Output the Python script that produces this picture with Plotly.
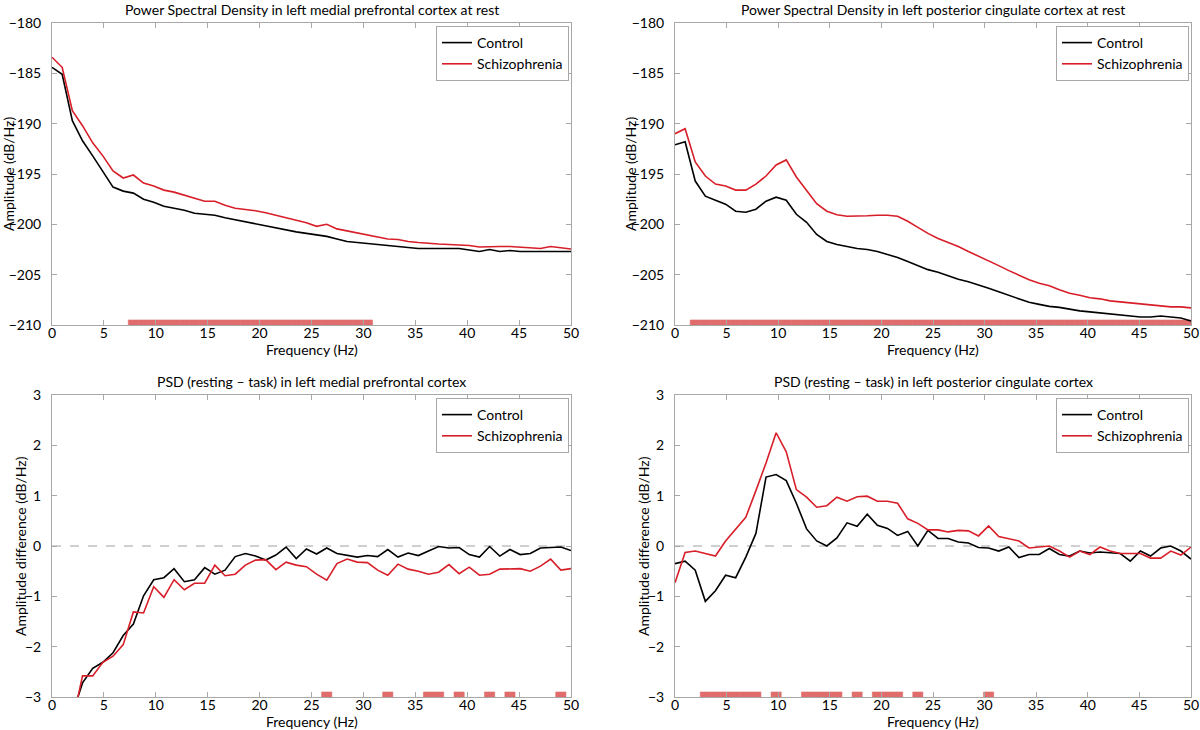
import plotly.graph_objects as go

# ---------------- data ----------------
freq = [0.0, 0.98, 1.96, 2.94, 3.92, 4.9, 5.88, 6.86, 7.84, 8.82, 9.8, 10.78, 11.76,
        12.75, 13.73, 14.71, 15.69, 16.67, 17.65, 18.63, 19.61, 20.59, 21.57, 22.55,
        23.53, 24.51, 25.49, 26.47, 27.45, 28.43, 29.41, 30.39, 31.37, 32.35, 33.33,
        34.31, 35.29, 36.27, 37.25, 38.24, 39.22, 40.2, 41.18, 42.16, 43.14, 44.12,
        45.1, 46.08, 47.06, 48.04, 49.02, 50.0]

mpfc_rest_control = [-184.4, -185.1, -189.7, -191.7, -193.2, -194.7, -196.3, -196.7, -196.9,
                     -197.5, -197.8, -198.2, -198.4, -198.6, -198.9, -199.0, -199.1, -199.35,
                     -199.55, -199.8, -200.0, -200.15, -200.35, -200.6, -200.75, -200.9,
                     -201.05, -201.2, -201.45, -201.7, -201.8, -201.9, -202.0, -202.1, -202.2,
                     -202.25, -202.4, -202.4, -202.4, -202.4, -202.4, -202.55, -202.7, -202.5,
                     -202.7, -202.6, -202.7, -202.7, -202.7, -202.7, -202.7, -202.7]
mpfc_rest_scz = [-183.4, -184.4, -188.7, -190.2, -191.9, -193.2, -194.7, -195.4, -195.1,
                 -195.9, -196.2, -196.6, -196.8, -197.1, -197.4, -197.7, -197.7, -198.1,
                 -198.4, -198.5, -198.65, -198.85, -199.1, -199.3, -199.55, -199.85, -200.2,
                 -200.0, -200.45, -200.65, -200.85, -201.0, -201.25, -201.45, -201.5, -201.7,
                 -201.8, -201.9, -201.95, -202.0, -202.05, -202.1, -202.25, -202.2, -202.2,
                 -202.2, -202.25, -202.35, -202.4, -202.2, -202.3, -202.45]

pcc_rest_control = [-192.1, -191.8, -195.7, -197.2, -197.6, -198.0, -198.7, -198.8, -198.5,
                    -197.7, -197.3, -197.6, -199.0, -199.8, -201.0, -201.7, -202.0, -202.2,
                    -202.4, -202.5, -202.7, -203.0, -203.3, -203.7, -204.1, -204.5, -204.75,
                    -205.1, -205.45, -205.7, -206.0, -206.35, -206.7, -207.05, -207.45,
                    -207.75, -207.95, -208.15, -208.25, -208.45, -208.6, -208.7, -208.8,
                    -208.9, -209.0, -209.1, -209.2, -209.2, -209.1, -209.2, -209.3, -209.6]
pcc_rest_scz = [-191.0, -190.5, -193.8, -195.2, -196.0, -196.2, -196.6, -196.6, -196.0,
                -195.2, -194.1, -193.6, -195.3, -196.6, -197.95, -198.7, -199.05, -199.2,
                -199.2, -199.15, -199.1, -199.1, -199.2, -199.7, -200.3, -200.9, -201.4,
                -201.8, -202.2, -202.7, -203.15, -203.65, -204.1, -204.6, -205.05, -205.5,
                -205.85, -206.1, -206.5, -206.85, -207.05, -207.3, -207.4, -207.6, -207.7,
                -207.8, -207.9, -208.0, -208.1, -208.2, -208.2, -208.3]

mpfc_diff_control = [None, None, -3.34, -2.72, -2.43, -2.31, -2.12, -1.78, -1.55, -0.99,
                     -0.67, -0.63, -0.45, -0.71, -0.67, -0.43, -0.56, -0.48, -0.21, -0.15,
                     -0.2, -0.28, -0.18, -0.02, -0.25, -0.06, -0.16, -0.04, -0.15, -0.19,
                     -0.22, -0.19, -0.21, -0.07, -0.22, -0.14, -0.19, -0.1, -0.01, -0.04,
                     -0.03, -0.17, -0.22, -0.01, -0.2, -0.07, -0.17, -0.15, -0.04, -0.03,
                     -0.02, -0.09]
mpfc_diff_scz = [None, None, -3.52, -2.58, -2.58, -2.31, -2.19, -1.96, -1.31, -1.33, -0.81,
                 -1.02, -0.67, -0.87, -0.74, -0.74, -0.38, -0.59, -0.56, -0.38, -0.28, -0.27,
                 -0.47, -0.32, -0.38, -0.41, -0.56, -0.68, -0.35, -0.26, -0.32, -0.33, -0.48,
                 -0.58, -0.36, -0.46, -0.5, -0.56, -0.52, -0.37, -0.55, -0.42, -0.58, -0.56,
                 -0.46, -0.46, -0.45, -0.5, -0.4, -0.26, -0.48, -0.45]

pcc_diff_control = [-0.35, -0.3, -0.48, -1.1, -0.89, -0.58, -0.63, -0.22, 0.25, 1.37, 1.42,
                    1.3, 0.85, 0.34, 0.1, 0.0, 0.16, 0.46, 0.39, 0.63, 0.41, 0.35, 0.21,
                    0.29, 0.0, 0.31, 0.15, 0.15, 0.08, 0.06, -0.03, -0.04, -0.1, -0.02,
                    -0.23, -0.17, -0.17, -0.05, -0.17, -0.2, -0.1, -0.14, -0.12, -0.14,
                    -0.15, -0.3, -0.1, -0.2, -0.04, 0.0, -0.1, -0.26]
pcc_diff_scz = [-0.73, -0.13, -0.1, -0.15, -0.2, 0.1, 0.33, 0.57, 1.1, 1.65, 2.25, 1.87,
                1.12, 0.97, 0.77, 0.8, 0.97, 0.89, 0.98, 0.99, 0.89, 0.89, 0.85, 0.54, 0.45,
                0.32, 0.32, 0.28, 0.31, 0.3, 0.2, 0.4, 0.19, 0.15, 0.1, -0.04, -0.02, 0.0,
                -0.1, -0.22, -0.1, -0.17, -0.02, -0.1, -0.15, -0.15, -0.15, -0.24, -0.24,
                -0.1, -0.18, -0.02]

# indices of frequency bins with significant group differences
sig_mpfc_rest = list(range(8, 32))
sig_pcc_rest = list(range(2, 52))
sig_mpfc_diff = [27, 33, 37, 38, 40, 43, 45, 50]
sig_pcc_diff = [3, 4, 5, 6, 7, 8, 10, 13, 14, 15, 16, 18, 20, 21, 22, 24, 31]

titles = ["Power Spectral Density in left medial prefrontal cortex at rest",
          "Power Spectral Density in left posterior cingulate cortex at rest",
          "PSD (resting \u2013 task) in left medial prefrontal cortex",
          "PSD (resting \u2013 task) in left posterior cingulate cortex"]
y_titles = ["Amplitude (dB/Hz)", "Amplitude (dB/Hz)",
            "Amplitude difference (dB/Hz)", "Amplitude difference (dB/Hz)"]
x_title = "Frequency (Hz)"
series_names = ["Control", "Schizophrenia"]

# ---------------- style ----------------
FONT = "Lato"
W, H = 1200, 730
BLACK = "#000000"
RED = "#d81e28"
SIGC = "#e06c6c"
AXC = "#a8a8a8"

# pixel boxes of each axes: (left, right, top, bottom)
boxes = [(52, 571, 23, 325), (675, 1191, 23, 325),
         (52, 571, 395, 697), (675, 1191, 395, 697)]
yranges = [(-210, -180), (-210, -180), (-3, 3), (-3, 3)]
ydtick = [5, 5, 1, 1]
sig_h = [0.5, 0.5, 0.1, 0.1]
xlabel_off = [24, 24, 24, 24]

panels = [
    (mpfc_rest_control, mpfc_rest_scz, sig_mpfc_rest),
    (pcc_rest_control, pcc_rest_scz, sig_pcc_rest),
    (mpfc_diff_control, mpfc_diff_scz, sig_mpfc_diff),
    (pcc_diff_control, pcc_diff_scz, sig_pcc_diff),
]

fig = go.Figure()
annotations = []
shapes = []

for k, (ctrl, scz, sig) in enumerate(panels):
    n = "" if k == 0 else str(k + 1)
    xa, ya = "x" + n, "y" + n
    leg = "legend" + n
    y0, y1 = yranges[k]
    fig.add_trace(go.Bar(
        x=[freq[i] for i in sig], y=[sig_h[k]] * len(sig), base=y0, width=0.98,
        marker=dict(color=SIGC, line=dict(width=0.6, color=SIGC)), showlegend=False,
        xaxis=xa, yaxis=ya, hoverinfo="skip"))
    fig.add_trace(go.Scatter(x=freq, y=ctrl, mode="lines", name=series_names[0],
                             line=dict(color=BLACK, width=1.6), xaxis=xa, yaxis=ya,
                             legend=leg))
    fig.add_trace(go.Scatter(x=freq, y=scz, mode="lines", name=series_names[1],
                             line=dict(color=RED, width=1.6), xaxis=xa, yaxis=ya,
                             legend=leg))

    l, r, t, b = boxes[k]
    dom_x = [l / W, r / W]
    dom_y = [1 - b / H, 1 - t / H]
    common = dict(showline=True, linecolor=AXC, linewidth=1, mirror="ticks",
                  ticks="inside", ticklen=5, tickcolor=AXC, showgrid=False,
                  zeroline=False, automargin=False,
                  tickfont=dict(family=FONT, size=14, color="black"))
    fig.layout["xaxis" + n] = dict(domain=dom_x, range=[0, 50], tick0=0, dtick=5,
                                   anchor=ya, ticklabelstandoff=-5, **common)
    fig.layout["yaxis" + n] = dict(domain=dom_y, range=[y0, y1], tick0=y0,
                                   dtick=ydtick[k], anchor=xa, ticklabelstandoff=7,
                                   **common)

    fig.layout[leg] = dict(x=(r - 2) / W, y=1 - (t + 3) / H, xanchor="right",
                           yanchor="top", xref="paper", yref="paper",
                           bgcolor="white", bordercolor=AXC, borderwidth=1,
                           font=dict(family=FONT, size=14, color="black"),
                           itemwidth=30, tracegroupgap=0)

    cx = (l + r) / 2
    annotations.append(dict(text=titles[k], x=cx / W, y=1 - (t - 14) / H,
                            xref="paper", yref="paper", showarrow=False,
                            xanchor="center", yanchor="middle",
                            font=dict(family=FONT, size=14, color="black")))
    annotations.append(dict(text=x_title, x=cx / W, y=1 - (b + xlabel_off[k]) / H,
                            xref="paper", yref="paper", showarrow=False,
                            xanchor="center", yanchor="middle",
                            font=dict(family=FONT, size=14, color="black")))
    ylx = [8, 630, 20, 643][k]
    annotations.append(dict(text=y_titles[k], x=ylx / W, y=1 - ((t + b) / 2) / H,
                            xref="paper", yref="paper", showarrow=False,
                            textangle=-90, xanchor="center", yanchor="middle",
                            font=dict(family=FONT, size=14, color="black")))
    if k >= 2:
        shapes.append(dict(type="line", xref=xa, yref=ya, x0=0, x1=50, y0=0, y1=0,
                           line=dict(color="#a0a0a0", width=1, dash="dash"),
                           layer="below"))

fig.update_layout(width=W, height=H, margin=dict(l=0, r=0, t=0, b=0),
                  paper_bgcolor="white", plot_bgcolor="white",
                  annotations=annotations, shapes=shapes, barmode="overlay",
                  font=dict(family=FONT, size=14, color="black"))

fig.write_html("out.html", config={"displayModeBar": False},
               post_script="document.body.style.margin='0px';"
                           "document.body.style.overflow='hidden';")
